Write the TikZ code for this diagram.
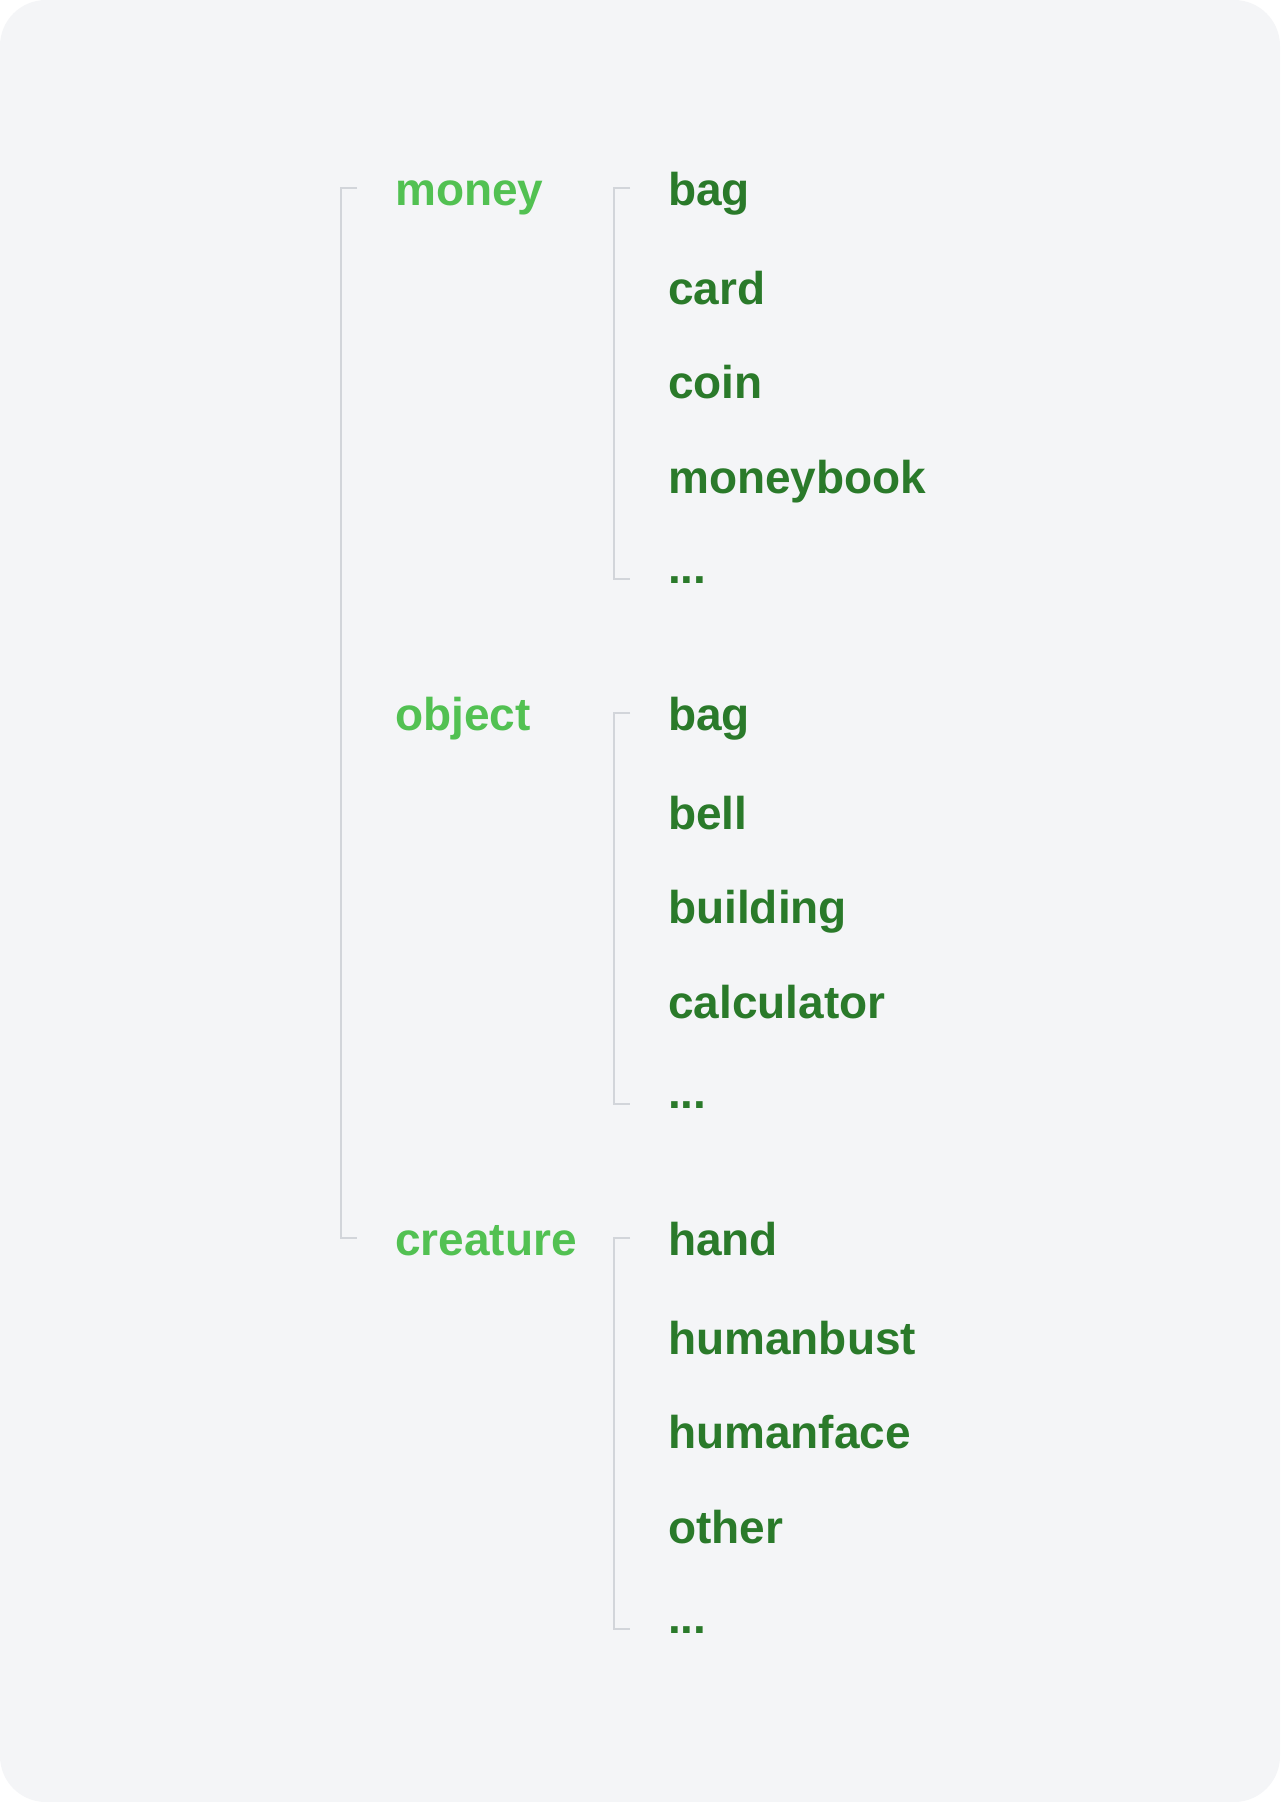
\documentclass[tikz,border=0pt]{standalone}
\usepackage{fontspec}
\setmainfont{Liberation Sans}
\usetikzlibrary{positioning}
\definecolor{tybgcol}{HTML}{F4F5F7}
\definecolor{tycatcol}{HTML}{52C152}
\definecolor{tyitemcol}{HTML}{2A7A2A}
\definecolor{tybrkcol}{HTML}{D2D5DA}
\tikzstyle{tycatstyle}=[inner sep=0pt,anchor=base west,text=tycatcol,font=\fontsize{46}{54}\selectfont\bfseries]
\tikzstyle{tyitemstyle}=[inner sep=0pt,anchor=base west,text=tyitemcol,font=\fontsize{46}{54}\selectfont\bfseries]
\tikzstyle{tybrkstyle}=[draw=tybrkcol,line width=2pt]
\newcommand{\tycat}[3]{ \node [style=tycatstyle] (#1) at (395,#3) {#2}; }
\newcommand{\tyitem}[4]{ \node [style=tyitemstyle] (#1) at (668,{#3+#4}) {#2}; }
\newcommand{\tybracket}[3]{ \draw [style=tybrkstyle] ([xshift=-38pt,yshift=17pt]#1.base west) -- ++(-16pt,0pt) |- ([xshift=-38pt,yshift=#3]#2.base west); }

\begin{document}
\begin{tikzpicture}[x=1pt,y=-1pt]
\useasboundingbox (0,0) rectangle (1280,1802);
\fill [white] (0,0) rectangle (1280,1802);
\fill [tybgcol, rounded corners=46pt] (0,0) rectangle (1280,1802);

\tycat{money}{money}{205} %
\tyitem{moneyA}{bag}{205}{0} %
\tyitem{moneyB}{card}{205}{99} %
\tyitem{moneyC}{coin}{205}{193} %
\tyitem{moneyD}{moneybook}{205}{288} %
\tyitem{moneyE}{...}{205}{378} %
\tybracket{moneyA}{moneyE}{4pt} %

\tycat{object}{object}{730} %
\tyitem{objectA}{bag}{730}{0} %
\tyitem{objectB}{bell}{730}{99} %
\tyitem{objectC}{building}{730}{193} %
\tyitem{objectD}{calculator}{730}{288} %
\tyitem{objectE}{...}{730}{378} %
\tybracket{objectA}{objectE}{4pt} %

\tycat{creature}{creature}{1255} %
\tyitem{creatureA}{hand}{1255}{0} %
\tyitem{creatureB}{humanbust}{1255}{99} %
\tyitem{creatureC}{humanface}{1255}{193} %
\tyitem{creatureD}{other}{1255}{288} %
\tyitem{creatureE}{...}{1255}{378} %
\tybracket{creatureA}{creatureE}{4pt} %

\tybracket{money}{creature}{17pt} %
\end{tikzpicture}
\end{document}
